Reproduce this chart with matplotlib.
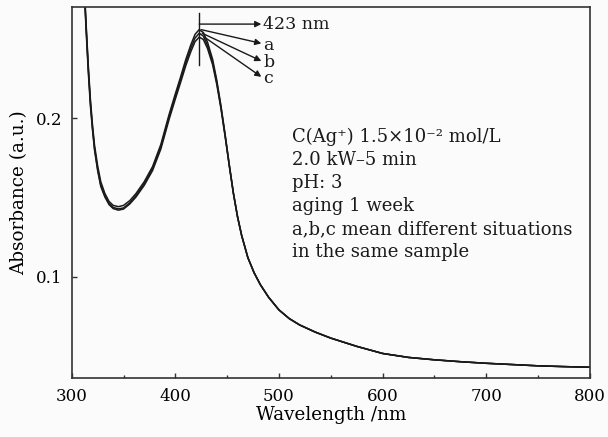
import matplotlib
matplotlib.use("Agg")
import matplotlib.pyplot as plt
from matplotlib.ticker import MultipleLocator

# wavelength (nm) and absorbance of the three spectra a, b, c
wavelength = [312, 314, 316, 318, 320, 322, 325, 328, 332, 336, 340, 345, 350, 356,
              362, 370, 378, 386, 394, 400, 405, 410, 415, 419, 423, 427, 431, 436,
              440, 444, 448, 452, 456, 460, 464, 470, 476, 482, 490, 500, 510, 520,
              535, 550, 575, 600, 625, 650, 675, 700, 725, 750, 775, 800]
abs_a = [0.285, 0.258, 0.233, 0.212, 0.196, 0.183, 0.170, 0.160, 0.1525, 0.1475,
         0.1450, 0.1442, 0.1450, 0.1480, 0.1525, 0.1600, 0.1695, 0.1835, 0.2025,
         0.2155, 0.2260, 0.2370, 0.2465, 0.2530, 0.2560, 0.2542, 0.2482, 0.2372,
         0.2240, 0.2080, 0.1900, 0.1710, 0.1530, 0.1380, 0.1260, 0.1120, 0.1025,
         0.0950, 0.0870, 0.0790, 0.0735, 0.0695, 0.0650, 0.0612, 0.0560, 0.0515,
         0.0490, 0.0475, 0.0463, 0.0453, 0.0445, 0.0437, 0.0432, 0.0428]
abs_b = [0.283, 0.256, 0.231, 0.210, 0.194, 0.181, 0.168, 0.158, 0.1510, 0.1462,
         0.1437, 0.1428, 0.1434, 0.1466, 0.1512, 0.1588, 0.1683, 0.1821, 0.2010,
         0.2139, 0.2243, 0.2351, 0.2444, 0.2507, 0.2537, 0.2520, 0.2461, 0.2354,
         0.2227, 0.2071, 0.1894, 0.1706, 0.1528, 0.1379, 0.1260, 0.1120, 0.1025,
         0.0950, 0.0870, 0.0790, 0.0735, 0.0695, 0.0650, 0.0612, 0.0560, 0.0515,
         0.0490, 0.0475, 0.0463, 0.0453, 0.0445, 0.0437, 0.0432, 0.0428]
abs_c = [0.281, 0.254, 0.229, 0.208, 0.193, 0.180, 0.167, 0.157, 0.1503, 0.1455,
         0.1430, 0.1420, 0.1427, 0.1459, 0.1503, 0.1577, 0.1670, 0.1806, 0.1994,
         0.2122, 0.2225, 0.2331, 0.2422, 0.2484, 0.2513, 0.2498, 0.2442, 0.2338,
         0.2213, 0.2062, 0.1887, 0.1702, 0.1526, 0.1378, 0.1260, 0.1120, 0.1025,
         0.0950, 0.0870, 0.0790, 0.0735, 0.0695, 0.0650, 0.0612, 0.0560, 0.0515,
         0.0490, 0.0475, 0.0463, 0.0453, 0.0445, 0.0437, 0.0432, 0.0428]

peak_nm = 423
labels = ["a", "b", "c"]
peak_starts = [(425, 0.2560), (426, 0.2537), (428, 0.2513)]
label_y = [0.2473, 0.2362, 0.2262]

info_lines = [
    "C(Ag\u207a) 1.5\u00d710\u207b\u00b2 mol/L",
    "2.0 kW\u20135 min",
    "pH: 3",
    "aging 1 week",
    "a,b,c mean different situations",
    "in the same sample",
]

plt.rcParams.update({
    "font.family": "DejaVu Serif",
    "font.size": 12,
})

fig = plt.figure(figsize=(6.08, 4.37), dpi=100, facecolor="#fbfbfb")
ax = fig.add_axes([0.118, 0.135, 0.852, 0.849])
ax.set_facecolor("#fbfbfb")

ink = "#1a1a1a"
for ys in (abs_a, abs_b, abs_c):
    ax.plot(wavelength, ys, color=ink, lw=1.1)

ax.set_xlim(300, 800)
ax.set_ylim(0.036, 0.2703)
ax.xaxis.set_major_locator(MultipleLocator(100))
ax.xaxis.set_minor_locator(MultipleLocator(50))
ax.set_yticks([0.1, 0.2])
ax.set_yticklabels(["0.1", "0.2"])
ax.tick_params(which="both", direction="in", top=False, right=False,
               color="#333333", labelsize=12)
ax.tick_params(which="major", length=3.5, width=1.0, pad=7)
ax.tick_params(which="minor", length=2.5, width=1.0)
for sp in ax.spines.values():
    sp.set_color("#333333")
    sp.set_linewidth(1.2)

ax.set_xlabel("Wavelength /nm", fontsize=13.2, labelpad=1)
ax.set_ylabel("Absorbance (a.u.)", fontsize=13.2, labelpad=5)

# peak marker and annotations
ax.plot([peak_nm, peak_nm], [0.2336, 0.2666], color=ink, lw=1.0)
arrow = dict(arrowstyle="-|>", color=ink, lw=1.0, mutation_scale=9, shrinkA=0, shrinkB=0)
ax.annotate("", xy=(483, 0.2595), xytext=(peak_nm, 0.2595), arrowprops=arrow)
ax.text(485, 0.2595, "423 nm", va="center", ha="left", color=ink, fontsize=12.5)
for lab, start, yl in zip(labels, peak_starts, label_y):
    ax.annotate("", xy=(483, yl), xytext=start, arrowprops=arrow)
    ax.text(485, yl, lab, va="center_baseline", ha="left", color=ink, fontsize=12.5)

# condition text block
y0 = 0.1882
for i, line in enumerate(info_lines):
    ax.text(513, y0 - i * 0.01452, line, va="center", ha="left", color=ink, fontsize=13)

fig.savefig("out.png", dpi=100, facecolor=fig.get_facecolor())
